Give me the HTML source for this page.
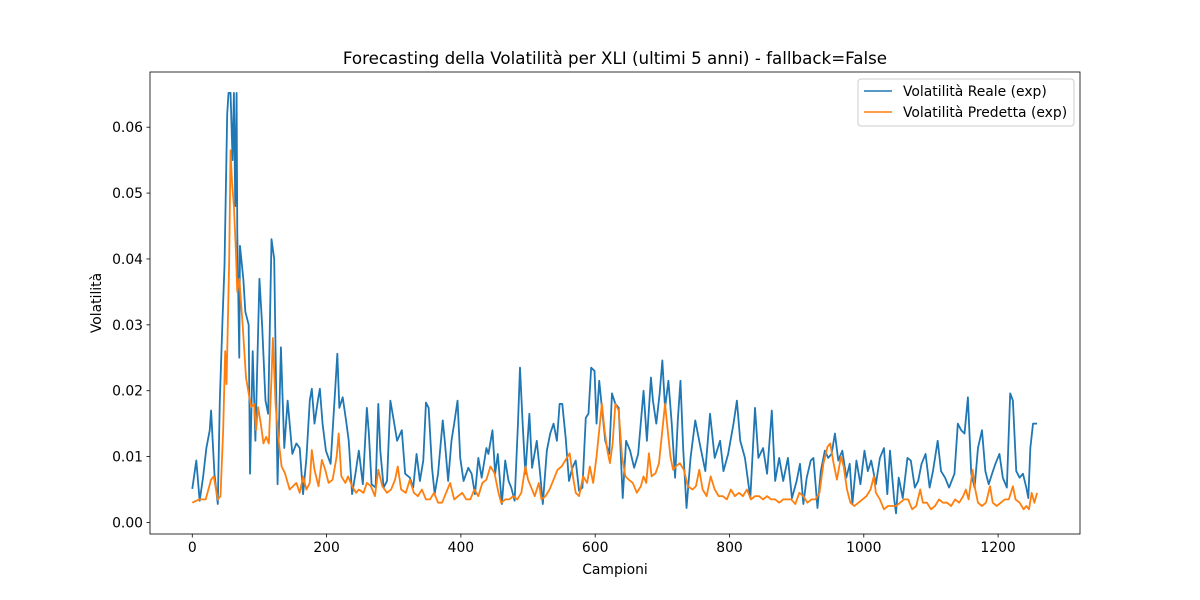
<!DOCTYPE html>
<html><head><meta charset="utf-8"><style>
html,body{margin:0;padding:0;background:#fff;}
svg{display:block;font-family:"DejaVu Sans","Liberation Sans",sans-serif;}
</style></head><body>
<svg id="chart" width="1200" height="600" viewBox="0 0 1200 600" xmlns="http://www.w3.org/2000/svg">
<rect x="0" y="0" width="1200" height="600" fill="#fff"/>
<text x="615" y="64" text-anchor="middle" font-size="16.7" fill="#000">Forecasting della Volatilità per XLI (ultimi 5 anni) - fallback=False</text>
<g id="plot"></g>
<text x="615" y="574" text-anchor="middle" font-size="13.9" fill="#000">Campioni</text>
<text x="101" y="303" text-anchor="middle" font-size="13.9" fill="#000" transform="rotate(-90 101 303)">Volatilità</text>
<g>
<rect x="858" y="79" width="216" height="47" rx="3" fill="#fff" fill-opacity="0.8" stroke="#ccc"/>
<line x1="864" y1="91" x2="892" y2="91" stroke="#1f77b4" stroke-width="1.5"/>
<text x="903" y="96" font-size="13.9">Volatilità Reale (exp)</text>
<line x1="864" y1="112" x2="892" y2="112" stroke="#ff7f0e" stroke-width="1.5"/>
<text x="903" y="117" font-size="13.9">Volatilità Predetta (exp)</text>
</g>
</svg>
<script>
const realX=[0,6,11,16,21,26,28,33,38,41,45,48,52,54,57,60,62,64,66,67,70,71,76,79,84,86,90,94,100,104,109,113,118,122,127,132,137,142,149,155,160,165,170,175,178,182,187,190,194,199,206,213,216,219,224,229,233,238,243,248,254,260,263,267,273,277,280,285,290,295,300,305,312,317,324,329,334,339,344,348,352,357,361,366,373,376,381,386,390,395,399,404,411,416,421,426,431,438,441,447,451,455,461,466,471,475,480,485,488,492,496,502,506,513,518,522,528,533,538,543,547,551,556,561,566,571,576,581,586,590,594,599,602,606,610,615,621,625,630,635,641,646,652,658,664,672,677,683,686,691,696,700,704,709,714,719,723,727,731,736,742,749,757,764,771,778,786,791,798,806,811,816,823,831,838,843,850,856,863,868,874,880,887,893,900,905,910,915,921,925,931,936,942,947,952,957,962,968,974,979,983,989,995,1001,1006,1011,1018,1024,1030,1035,1039,1045,1048,1052,1058,1065,1070,1076,1081,1086,1092,1098,1103,1110,1115,1121,1127,1135,1140,1145,1150,1155,1160,1165,1170,1176,1181,1186,1191,1196,1202,1207,1213,1218,1222,1227,1232,1237,1242,1245,1248,1252,1258];
const realY=[0.0051,0.0094,0.0033,0.0068,0.0113,0.014,0.017,0.0074,0.0028,0.0185,0.0307,0.039,0.062,0.0652,0.0652,0.055,0.0652,0.048,0.0652,0.044,0.025,0.042,0.037,0.032,0.030,0.0074,0.026,0.0124,0.037,0.030,0.0185,0.0165,0.043,0.040,0.0058,0.0266,0.0113,0.0185,0.0104,0.012,0.0113,0.0043,0.0098,0.0185,0.0203,0.015,0.0185,0.0203,0.015,0.0109,0.0089,0.0205,0.0256,0.0174,0.019,0.0155,0.0124,0.0043,0.0074,0.0109,0.0058,0.0174,0.0135,0.0058,0.0053,0.018,0.0109,0.0053,0.0063,0.0185,0.0155,0.0124,0.014,0.0074,0.0068,0.0053,0.0104,0.0063,0.0094,0.0182,0.0174,0.0083,0.0043,0.0074,0.0155,0.0124,0.0063,0.0124,0.015,0.0185,0.0098,0.0063,0.0083,0.0074,0.0043,0.0098,0.0068,0.0113,0.0104,0.014,0.0074,0.0104,0.0028,0.0094,0.0063,0.0053,0.0033,0.015,0.0235,0.015,0.0074,0.0165,0.0083,0.0124,0.0074,0.0028,0.0109,0.0135,0.015,0.0124,0.018,0.018,0.0129,0.0063,0.0083,0.0094,0.0048,0.0053,0.0159,0.0165,0.0235,0.023,0.015,0.0215,0.0174,0.0124,0.0104,0.0196,0.018,0.0174,0.0037,0.0124,0.0109,0.0083,0.0104,0.020,0.0124,0.022,0.0185,0.015,0.0196,0.0246,0.0174,0.0215,0.015,0.0068,0.0155,0.0215,0.0113,0.0022,0.0098,0.0155,0.0113,0.0078,0.0165,0.0098,0.0124,0.0078,0.0104,0.015,0.0185,0.0124,0.0098,0.0037,0.0174,0.0098,0.0113,0.0074,0.017,0.0063,0.0098,0.0063,0.0098,0.0037,0.0063,0.0089,0.0028,0.0068,0.0094,0.0098,0.0022,0.0078,0.0109,0.0098,0.0104,0.0135,0.0094,0.0109,0.0068,0.0089,0.0028,0.0094,0.0058,0.0109,0.0078,0.0094,0.0058,0.0098,0.0113,0.0043,0.0109,0.0037,0.0014,0.0068,0.0037,0.0098,0.0094,0.0053,0.0063,0.0089,0.0104,0.0053,0.0078,0.0124,0.0078,0.0068,0.0053,0.0074,0.015,0.014,0.0135,0.019,0.0074,0.0053,0.0113,0.014,0.0078,0.0058,0.0074,0.0089,0.0104,0.0068,0.0053,0.0196,0.0185,0.0078,0.0068,0.0074,0.0053,0.0037,0.0113,0.015,0.015];
const predX=[0,10,20,28,32,38,42,46,49,51,55,57,59,62,65,67,70,75,80,85,88,92,95,98,102,106,110,114,118,120,124,128,133,138,145,150,155,160,165,170,175,178,182,188,193,198,203,209,215,218,222,228,232,238,244,248,255,260,266,272,277,283,290,296,302,306,311,318,324,330,336,342,348,354,360,366,372,378,384,390,396,402,408,414,420,426,432,438,444,450,456,460,466,472,478,484,490,496,500,506,510,516,520,526,532,538,544,550,556,562,566,571,576,582,588,592,597,602,606,610,614,618,622,626,630,635,640,645,650,656,662,668,672,676,680,684,690,695,700,704,708,712,716,720,726,732,738,745,750,755,760,766,772,778,784,790,796,802,808,814,820,826,832,838,844,850,856,862,868,874,880,886,892,898,904,910,916,922,928,934,940,946,950,955,960,966,970,975,980,986,992,998,1004,1010,1015,1018,1024,1030,1036,1042,1048,1054,1060,1066,1072,1078,1084,1088,1094,1100,1106,1112,1118,1124,1130,1136,1142,1148,1152,1156,1162,1166,1170,1176,1182,1188,1192,1198,1204,1210,1216,1222,1226,1232,1238,1242,1246,1250,1254,1258];
const predY=[0.003,0.0035,0.0035,0.0065,0.007,0.0035,0.004,0.014,0.026,0.021,0.040,0.0565,0.052,0.048,0.041,0.035,0.037,0.030,0.022,0.019,0.0175,0.018,0.014,0.0175,0.015,0.012,0.013,0.012,0.022,0.028,0.018,0.013,0.0085,0.0075,0.005,0.0055,0.006,0.0045,0.007,0.005,0.006,0.011,0.008,0.0055,0.0095,0.008,0.006,0.0065,0.010,0.0135,0.007,0.006,0.007,0.0055,0.0045,0.005,0.0045,0.006,0.0055,0.004,0.008,0.0055,0.0045,0.005,0.0065,0.0085,0.005,0.0045,0.0065,0.0045,0.004,0.005,0.0035,0.0035,0.0045,0.003,0.003,0.0045,0.006,0.0035,0.004,0.0045,0.0035,0.0035,0.005,0.004,0.006,0.0065,0.0085,0.0075,0.0045,0.003,0.0035,0.0035,0.004,0.0035,0.0045,0.0085,0.0065,0.005,0.004,0.006,0.0035,0.004,0.005,0.0065,0.008,0.0085,0.0095,0.0105,0.0075,0.0045,0.004,0.007,0.006,0.0085,0.006,0.010,0.014,0.018,0.014,0.011,0.009,0.012,0.018,0.017,0.010,0.007,0.0065,0.006,0.0045,0.0055,0.007,0.006,0.0105,0.007,0.0075,0.009,0.014,0.018,0.014,0.010,0.008,0.0085,0.009,0.008,0.0055,0.005,0.0055,0.008,0.005,0.004,0.007,0.005,0.004,0.004,0.0035,0.005,0.004,0.0045,0.004,0.005,0.0035,0.004,0.004,0.0035,0.004,0.0035,0.0035,0.003,0.0035,0.0035,0.0035,0.0028,0.0045,0.004,0.003,0.0035,0.0035,0.0045,0.009,0.0115,0.012,0.009,0.0065,0.010,0.0085,0.005,0.003,0.0025,0.003,0.0035,0.004,0.005,0.007,0.0045,0.0035,0.002,0.0025,0.0025,0.0025,0.003,0.0035,0.0035,0.002,0.0025,0.005,0.003,0.003,0.002,0.0025,0.0035,0.003,0.003,0.0025,0.0035,0.003,0.004,0.005,0.0035,0.008,0.005,0.003,0.0025,0.003,0.0055,0.003,0.0025,0.003,0.0035,0.0035,0.0055,0.0035,0.003,0.002,0.0025,0.002,0.0045,0.003,0.0045];
const xTicks=[0,200,400,600,800,1000,1200];
const yTicks=[0,0.01,0.02,0.03,0.04,0.05,0.06];
const yTickLabels=["0.00","0.01","0.02","0.03","0.04","0.05","0.06"];

const L=150,R=1080,T=72,B=534;
const xMin=-62.95,xMax=1321.95;
const yMin=-0.00175,yMax=0.06838;
function sx(v){return L+(v-xMin)/(xMax-xMin)*(R-L);}
function sy(v){return B-(v-yMin)/(yMax-yMin)*(B-T);}
const NS='http://www.w3.org/2000/svg';
const g=document.getElementById('plot');
function mk(tag,attrs){const e=document.createElementNS(NS,tag);for(const k in attrs)e.setAttribute(k,attrs[k]);return e;}

const clip=mk('clipPath',{id:'clip'});clip.appendChild(mk('rect',{x:L,y:T,width:R-L,height:B-T}));g.appendChild(clip);

function series(xs,ys,color,name){
  const p=mk('polyline',{points:xs.map((x,i)=>sx(x).toFixed(2)+','+sy(ys[i]).toFixed(2)).join(' '),fill:'none',stroke:color,'stroke-width':1.8,'stroke-linejoin':'round','clip-path':'url(#clip)'});
  
  
  g.appendChild(p);
}
series(realX,realY,'#1f77b4','real-volatility-line');
series(predX,predY,'#ff7f0e','predicted-volatility-line');

const frame=mk('rect',{x:L,y:T,width:R-L,height:B-T,fill:'none',stroke:'#000','stroke-width':0.8});


g.appendChild(frame);

xTicks.forEach(v=>{
  const x=sx(v);
  const t=mk('line',{x1:x,y1:B,x2:x,y2:B+3.5,stroke:'#000','stroke-width':0.8});
  
  
  g.appendChild(t);
  const l=mk('text',{x:x,y:B+18,'text-anchor':'middle','font-size':13.9});
  
  
  l.textContent=String(v);g.appendChild(l);
});
yTicks.forEach((v,i)=>{
  const y=sy(v);
  const t=mk('line',{x1:L-3.5,y1:y,x2:L,y2:y,stroke:'#000','stroke-width':0.8});
  
  
  g.appendChild(t);
  const l=mk('text',{x:L-7,y:y+5,'text-anchor':'end','font-size':13.9});
  
  
  l.textContent=yTickLabels[i];g.appendChild(l);
});
</script>
</body></html>
